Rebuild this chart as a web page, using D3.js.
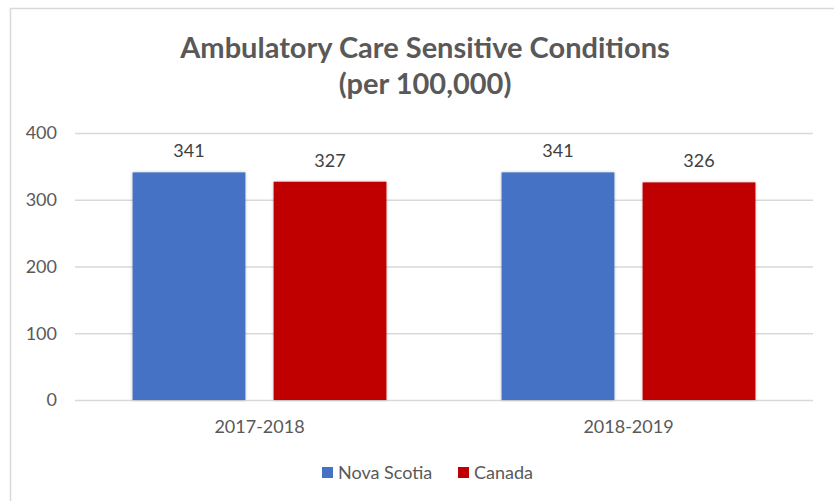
<!DOCTYPE html>
<html>
<head>
<meta charset="utf-8">
<script src="https://cdn.jsdelivr.net/npm/d3@7"></script>
<style>
  html, body { margin: 0; padding: 0; background: #fff; }
  svg { display: block; }
  text { font-family: Lato, "Open Sans", sans-serif; }
</style>
</head>
<body>
<svg id="chart" width="834" height="501"></svg>
<script>
const categories = ["2017-2018", "2018-2019"];
const seriesNames = ["Nova Scotia", "Canada"];
const novaScotia = [341, 341];
const canada = [327, 326];
const yTicks = [0, 100, 200, 300, 400];
const colors = ["#4472C4", "#C00000"];

const seriesValues = [novaScotia, canada];
const rows = categories.map((c, i) => ({
  category: c,
  values: seriesNames.map((s, j) => ({ series: s, value: seriesValues[j][i], color: colors[j] }))
}));

const svg = d3.select("#chart");
const W = 834, H = 501;
const FONT = "Lato, 'Open Sans', sans-serif";

// outer chart frame
svg.append("rect")
  .attr("x", 10.5).attr("y", 8.5)
  .attr("width", W + 10).attr("height", H + 10)
  .attr("fill", "#fff").attr("stroke", "#d9d9d9").attr("stroke-width", 1.5);

const defs = svg.append("defs");
const f = defs.append("filter").attr("id", "shadow")
  .attr("x", "-10%").attr("y", "-10%").attr("width", "120%").attr("height", "120%");
f.append("feDropShadow").attr("dx", 0).attr("dy", 0).attr("stdDeviation", 1.5)
  .attr("flood-color", "#000").attr("flood-opacity", 0.25);

const plot = { left: 75, right: 813, top: 133, bottom: 400 };

const y = d3.scaleLinear().domain([0, 400]).range([plot.bottom, plot.top]);
const x0 = d3.scaleBand().domain(categories).range([plot.left, plot.right])
  .paddingInner(0.312).paddingOuter(0.156);
const x1 = d3.scaleBand().domain(seriesNames).range([0, x0.bandwidth()]).paddingInner(0.2);

// title
const title = svg.append("text")
  .attr("text-anchor", "middle")
  .attr("fill", "#595959")
  .attr("font-size", 29)
  .attr("font-weight", "bold");
title.append("tspan").attr("x", 425).attr("y", 58).text("Ambulatory Care Sensitive Conditions");
title.append("tspan").attr("x", 425).attr("y", 94).text("(per 100,000)");

// gridlines + y axis labels
const yAxis = d3.axisLeft(y).tickValues(yTicks).tickSize(-(plot.right - plot.left)).tickPadding(18);
const gy = svg.append("g").attr("transform", `translate(${plot.left},0)`).call(yAxis);
gy.select(".domain").remove();
gy.selectAll(".tick line").attr("stroke", "#d9d9d9").attr("stroke-width", 1.5);
gy.selectAll(".tick text").attr("fill", "#595959").attr("font-size", 18).style("font-family", FONT);

// x axis labels
const xAxis = d3.axisBottom(x0).tickSize(0).tickPadding(20);
const gx = svg.append("g").attr("transform", `translate(0,${plot.bottom})`).call(xAxis);
gx.select(".domain").remove();
gx.selectAll(".tick text").attr("fill", "#595959").attr("font-size", 18).style("font-family", FONT);

// bars
const groups = svg.append("g").selectAll("g").data(rows).join("g")
  .attr("transform", d => `translate(${x0(d.category)},0)`);

groups.selectAll("rect").data(d => d.values).join("rect")
  .attr("x", d => x1(d.series))
  .attr("y", d => y(d.value))
  .attr("width", x1.bandwidth())
  .attr("height", d => y(0) - y(d.value))
  .attr("fill", d => d.color)
  .attr("filter", "url(#shadow)");

groups.selectAll("text.val").data(d => d.values).join("text")
  .attr("class", "val")
  .attr("x", d => x1(d.series) + x1.bandwidth() / 2)
  .attr("y", d => y(d.value) - 15)
  .attr("text-anchor", "middle")
  .attr("fill", "#404040")
  .attr("font-size", 18)
  .text(d => d.value);

// legend
const legend = svg.append("g").attr("transform", "translate(322,473)");
const legendX = [0, 136];
seriesNames.forEach((s, i) => {
  const g = legend.append("g").attr("transform", `translate(${legendX[i]},0)`);
  g.append("rect").attr("x", 0).attr("y", -6).attr("width", 11).attr("height", 11).attr("fill", colors[i]);
  g.append("text").attr("x", 16).attr("y", 6).attr("fill", "#595959").attr("font-size", 18).text(s);
});
</script>
</body>
</html>
